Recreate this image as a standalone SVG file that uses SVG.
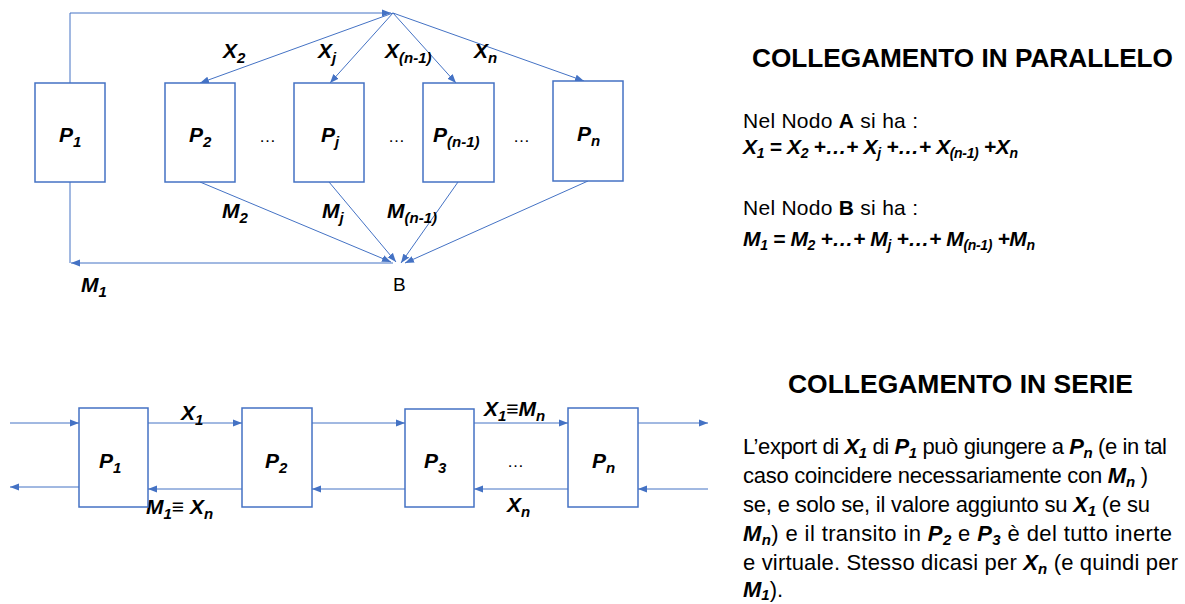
<svg xmlns="http://www.w3.org/2000/svg" width="1185" height="604" viewBox="0 0 1185 604">
<defs>
<style>
text{font-family:"Liberation Sans",Arial,sans-serif;fill:#000}
.bi{font-weight:bold;font-style:italic}
.b{font-weight:bold}
.lbl{font-size:21px;font-weight:bold;font-style:italic}
.box{fill:#fff;stroke:#4472C4;stroke-width:1.5}
.ln{fill:none;stroke:#4472C4;stroke-width:1}
.arr{marker-end:url(#ah)}
.dots{font-size:17px}
.title{font-size:26px;font-weight:bold}
.body{font-size:21px}
.para{font-size:22px}
</style>
<marker id="ah" markerUnits="userSpaceOnUse" markerWidth="9" markerHeight="8" refX="9" refY="4" orient="auto">
<path d="M0,0.5 L9,4 L0,7.5 z" fill="#4472C4"/>
</marker>
</defs>
<rect width="1185" height="604" fill="#fff"/>

<!-- Parallel connectors -->
<g id="parallel-connectors">
<path class="ln arr" d="M70,83 V13 H391"/>
<line class="ln arr" x1="393" y1="13" x2="200" y2="83"/>
<line class="ln arr" x1="393" y1="13" x2="330" y2="83"/>
<line class="ln arr" x1="393" y1="13" x2="456" y2="83"/>
<line class="ln arr" x1="393" y1="13" x2="584" y2="81"/>
<line class="ln arr" x1="200" y1="182" x2="391" y2="262"/>
<line class="ln arr" x1="329" y1="182" x2="396" y2="262"/>
<line class="ln arr" x1="458" y1="182" x2="401" y2="263"/>
<line class="ln arr" x1="588" y1="181" x2="405" y2="263"/>
<line class="ln" x1="70" y1="182" x2="70" y2="263"/>
<line class="ln arr" x1="393" y1="263" x2="71" y2="263"/>
</g>

<!-- Parallel edge labels -->
<g id="parallel-labels">
<text class="lbl" x="223" y="58">X<tspan font-size="15" dy="5">2</tspan></text>
<text class="lbl" x="318" y="58">X<tspan font-size="15" dy="5">j</tspan></text>
<text class="lbl" x="385" y="58">X<tspan font-size="15" dy="5">(n-1)</tspan></text>
<text class="lbl" x="474" y="58">X<tspan font-size="15" dy="5">n</tspan></text>
<text class="lbl" x="222" y="218">M<tspan font-size="15" dy="5">2</tspan></text>
<text class="lbl" x="322" y="218">M<tspan font-size="15" dy="5">j</tspan></text>
<text class="lbl" x="387" y="218">M<tspan font-size="15" dy="5">(n-1)</tspan></text>
<text class="lbl" x="81" y="292">M<tspan font-size="15" dy="5">1</tspan></text>
<text x="393" y="291" font-size="19">B</text>
</g>

<!-- Parallel nodes -->
<g id="par-P1"><rect class="box" x="35" y="83" width="70" height="99"/><text class="lbl" x="59" y="142">P<tspan font-size="15" dy="5">1</tspan></text></g>
<g id="par-P2"><rect class="box" x="165" y="83" width="70" height="99"/><text class="lbl" x="189" y="142">P<tspan font-size="15" dy="5">2</tspan></text></g>
<g id="par-Pj"><rect class="box" x="294" y="83" width="70" height="99"/><text class="lbl" x="321" y="142">P<tspan font-size="15" dy="5">j</tspan></text></g>
<g id="par-Pn1"><rect class="box" x="423" y="83" width="71" height="99"/><text class="lbl" x="433" y="142">P<tspan font-size="15" dy="5">(n-1)</tspan></text></g>
<g id="par-Pn"><rect class="box" x="553" y="81" width="70" height="100"/><text class="lbl" x="577" y="141">P<tspan font-size="15" dy="5">n</tspan></text></g>
<g id="par-dots">
<text class="dots" x="259" y="142">…</text>
<text class="dots" x="388" y="142">…</text>
<text class="dots" x="513" y="142">…</text>
</g>

<!-- Series connectors -->
<g id="series-connectors">
<line class="ln arr" x1="10" y1="423" x2="79" y2="423"/>
<line class="ln arr" x1="148" y1="423" x2="242" y2="423"/>
<line class="ln arr" x1="312" y1="423" x2="405" y2="423"/>
<line class="ln arr" x1="474" y1="423" x2="568" y2="423"/>
<line class="ln arr" x1="638" y1="423" x2="708" y2="423"/>
<line class="ln arr" x1="79" y1="487" x2="10" y2="487"/>
<line class="ln arr" x1="242" y1="489" x2="148" y2="489"/>
<line class="ln arr" x1="405" y1="489" x2="312" y2="489"/>
<line class="ln arr" x1="568" y1="489" x2="474" y2="489"/>
<line class="ln arr" x1="708" y1="489" x2="638" y2="489"/>
</g>

<g id="series-labels">
<text class="lbl" x="181" y="420">X<tspan font-size="15" dy="5">1</tspan></text>
<text class="lbl" x="146" y="514">M<tspan font-size="15" dy="5">1</tspan><tspan dy="-5">≡ X</tspan><tspan font-size="15" dy="5">n</tspan></text>
<text class="lbl" x="484" y="416">X<tspan font-size="15" dy="5">1</tspan><tspan dy="-5">≡M</tspan><tspan font-size="15" dy="5">n</tspan></text>
<text class="lbl" x="507" y="512">X<tspan font-size="15" dy="5">n</tspan></text>
<text class="dots" x="507" y="467">…</text>
</g>

<!-- Series nodes -->
<g id="ser-P1"><rect class="box" x="79" y="408" width="69" height="99"/><text class="lbl" x="99" y="468">P<tspan font-size="15" dy="5">1</tspan></text></g>
<g id="ser-P2"><rect class="box" x="242" y="408" width="70" height="99"/><text class="lbl" x="265" y="468">P<tspan font-size="15" dy="5">2</tspan></text></g>
<g id="ser-P3"><rect class="box" x="405" y="409" width="69" height="98"/><text class="lbl" x="424" y="468">P<tspan font-size="15" dy="5">3</tspan></text></g>
<g id="ser-Pn"><rect class="box" x="568" y="408" width="70" height="99"/><text class="lbl" x="592" y="468">P<tspan font-size="15" dy="5">n</tspan></text></g>

<!-- Right text: parallel -->
<g id="text-parallel">
<text class="title" x="752" y="67" textLength="421" lengthAdjust="spacingAndGlyphs">COLLEGAMENTO IN PARALLELO</text>
<text class="body" x="743" y="128" textLength="175">Nel Nodo <tspan class="b">A</tspan> si ha :</text>
<text class="body bi" x="743" y="154" textLength="275">X<tspan font-size="14" dy="4">1</tspan><tspan dy="-4"> = X</tspan><tspan font-size="14" dy="4">2</tspan><tspan dy="-4"> +…+ X</tspan><tspan font-size="14" dy="4">j</tspan><tspan dy="-4"> +…+ X</tspan><tspan font-size="14" dy="4">(n-1)</tspan><tspan dy="-4"> +X</tspan><tspan font-size="14" dy="4">n</tspan></text>
<text class="body" x="743" y="215" textLength="175">Nel Nodo <tspan class="b">B</tspan> si ha :</text>
<text class="body bi" x="743" y="246" textLength="292">M<tspan font-size="14" dy="4">1</tspan><tspan dy="-4"> = M</tspan><tspan font-size="14" dy="4">2</tspan><tspan dy="-4"> +…+ M</tspan><tspan font-size="14" dy="4">j</tspan><tspan dy="-4"> +…+ M</tspan><tspan font-size="14" dy="4">(n-1)</tspan><tspan dy="-4"> +M</tspan><tspan font-size="14" dy="4">n</tspan></text>
</g>

<!-- Right text: series -->
<g id="text-series">
<text class="title" x="788" y="393" textLength="345" lengthAdjust="spacingAndGlyphs">COLLEGAMENTO IN SERIE</text>
<text class="para" x="743" y="454" textLength="424">L’export di <tspan class="bi">X</tspan><tspan class="bi" font-size="15" dy="4">1</tspan><tspan dy="-4"> di </tspan><tspan class="bi">P</tspan><tspan class="bi" font-size="15" dy="4">1</tspan><tspan dy="-4"> può giungere a </tspan><tspan class="bi">P</tspan><tspan class="bi" font-size="15" dy="4">n</tspan><tspan dy="-4"> (e in tal</tspan></text>
<text class="para" x="743" y="483" textLength="405">caso coincidere necessariamente con <tspan class="bi">M</tspan><tspan class="bi" font-size="15" dy="4">n</tspan><tspan dy="-4"> )</tspan></text>
<text class="para" x="743" y="512" textLength="407">se, e solo se, il valore aggiunto su <tspan class="bi">X</tspan><tspan class="bi" font-size="15" dy="4">1</tspan><tspan dy="-4"> (e su</tspan></text>
<text class="para" x="743" y="541" textLength="429"><tspan class="bi">M</tspan><tspan class="bi" font-size="15" dy="4">n</tspan><tspan dy="-4">) e il transito in </tspan><tspan class="bi">P</tspan><tspan class="bi" font-size="15" dy="4">2</tspan><tspan dy="-4"> e </tspan><tspan class="bi">P</tspan><tspan class="bi" font-size="15" dy="4">3</tspan><tspan dy="-4"> è del tutto inerte</tspan></text>
<text class="para" x="743" y="570" textLength="435">e virtuale. Stesso dicasi per <tspan class="bi">X</tspan><tspan class="bi" font-size="15" dy="4">n</tspan><tspan dy="-4"> (e quindi per</tspan></text>
<text class="para" x="743" y="597"><tspan class="bi">M</tspan><tspan class="bi" font-size="15" dy="3">1</tspan><tspan dy="-3">).</tspan></text>
</g>
</svg>
